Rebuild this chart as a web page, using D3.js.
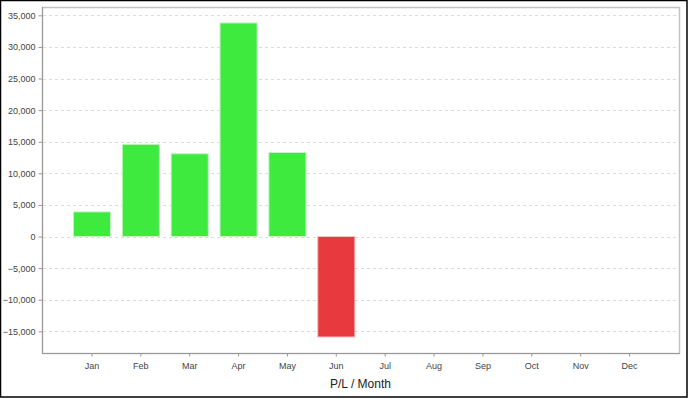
<!DOCTYPE html>
<html>
<head>
<meta charset="utf-8">
<script src="https://cdn.jsdelivr.net/npm/d3@7"></script>
<style>
  html, body { margin: 0; padding: 0; background: #fff; }
  svg { display: block; font-family: "Liberation Sans", Arial, sans-serif; }
</style>
</head>
<body>
<div id="chart"></div>
<script>
const months = ['Jan', 'Feb', 'Mar', 'Apr', 'May', 'Jun', 'Jul', 'Aug', 'Sep', 'Oct', 'Nov', 'Dec'];
const profit = [3900, 14600, 13100, 33800, 13300, -15900, null, null, null, null, null, null];
const yTicks = [-15000, -10000, -5000, 0, 5000, 10000, 15000, 20000, 25000, 30000, 35000];
const xTitle = 'P/L / Month';

const W = 688, H = 398;
const plot = { left: 42, right: 679, top: 7, bottom: 353 };

const svg = d3.select('#chart').append('svg')
  .attr('width', W)
  .attr('height', H);

svg.append('rect')
  .attr('x', 0.5).attr('y', 0.5)
  .attr('width', W - 1.5).attr('height', H - 1.5)
  .attr('fill', '#fff')
  .attr('stroke', '#000')
  .attr('stroke-width', 1.5);

const x = d3.scaleBand()
  .domain(months)
  .range([plot.left + 25.5, plot.right - 25])
  .paddingInner(0.24)
  .paddingOuter(0.12);

const y = d3.scaleLinear()
  .domain([-18430, 36320])
  .range([plot.bottom, plot.top]);

// plot frame (top / right)
svg.append('rect')
  .attr('x', plot.left + 0.5).attr('y', plot.top + 0.5)
  .attr('width', plot.right - plot.left).attr('height', plot.bottom - plot.top)
  .attr('fill', 'none')
  .attr('stroke', '#c4c4c4')
  .attr('stroke-width', 1.5);

// grid lines
svg.append('g')
  .selectAll('line')
  .data(yTicks)
  .enter().append('line')
  .attr('x1', plot.left + 1)
  .attr('x2', plot.right)
  .attr('y1', d => Math.round(y(d)) + 0.5)
  .attr('y2', d => Math.round(y(d)) + 0.5)
  .attr('stroke', '#dcdcdc')
  .attr('stroke-width', 1)
  .attr('stroke-dasharray', '3,3');

// bars
svg.append('g')
  .selectAll('rect')
  .data(months.map((m, i) => ({ month: m, value: profit[i] })).filter(d => d.value !== null))
  .enter().append('rect')
  .attr('x', d => x(d.month))
  .attr('y', d => y(Math.max(0, d.value)))
  .attr('width', x.bandwidth())
  .attr('height', d => Math.abs(y(d.value) - y(0)))
  .attr('fill', d => d.value >= 0 ? '#3dea3d' : '#e8393e')
  .attr('stroke', d => d.value >= 0 ? '#c8f5c8' : '#f3c4c6')
  .attr('stroke-width', 1);

// y axis
const yAxis = svg.append('g')
  .attr('transform', `translate(${plot.left + 0.5},0)`)
  .call(d3.axisLeft(y).tickValues(yTicks).tickFormat(d3.format(',')).tickSize(4).tickPadding(3));
yAxis.select('.domain').attr('stroke', '#999').attr('d', `M0,${plot.top}V${plot.bottom}`);
yAxis.selectAll('.tick line').attr('stroke', '#999');
yAxis.selectAll('.tick text').attr('fill', '#444').style('font-size', '9px');

// x axis
const xAxis = svg.append('g')
  .attr('transform', `translate(0,${plot.bottom + 0.5})`)
  .call(d3.axisBottom(x).tickSize(3).tickPadding(6));
xAxis.select('.domain').attr('stroke', '#999').attr('d', `M${plot.left},0H${plot.right + 1}`);
xAxis.selectAll('.tick line').attr('stroke', '#999');
xAxis.selectAll('.tick text').attr('fill', '#444').style('font-size', '9px');

// axis title
svg.append('text')
  .attr('x', (plot.left + plot.right) / 2)
  .attr('y', 388)
  .attr('text-anchor', 'middle')
  .attr('fill', '#222')
  .style('font-size', '12px')
  .text(xTitle);
</script>
</body>
</html>
